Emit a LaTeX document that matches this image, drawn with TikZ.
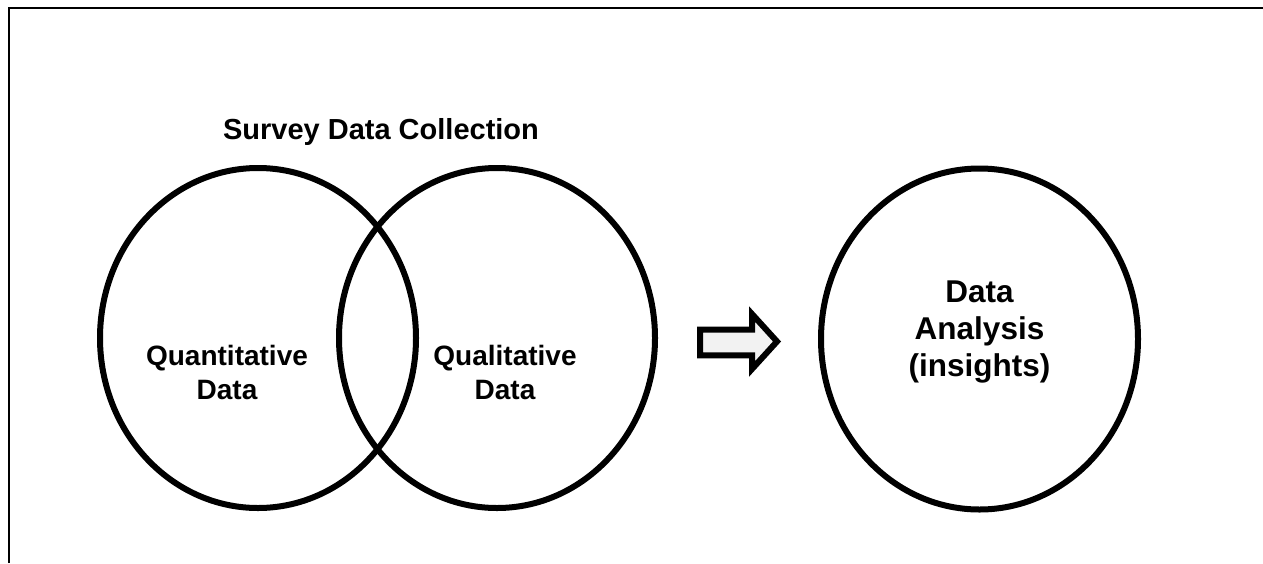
\documentclass[tikz,border=0pt]{standalone}
\usepackage{fontspec}
\setmainfont{Liberation Sans}
\begin{document}
\begin{tikzpicture}[x=1pt,y=-1pt,
  ringline/.style={draw=black,line width=6pt},
  lbl/.style={font=\fontsize{28}{34}\selectfont\bfseries,align=center,inner sep=0pt},
  biglbl/.style={font=\fontsize{31.5}{37}\selectfont\bfseries,align=center,inner sep=0pt},
  framestroke/.style={draw=black,line width=2pt}]
\useasboundingbox (0,0) rectangle (1263,563);
% open frame: only top and left edges
\coordinate (fbl) at (8.5,563);
\coordinate (ftl) at (8.5,8);
\coordinate (ftr) at (1263,8);
\draw[framestroke] (fbl) -- (ftl) -- (ftr);
% circles
\draw[ringline] (258,338) ellipse [x radius=158, y radius=170];
\draw[ringline] (497,338) ellipse [x radius=158, y radius=170];
\draw[ringline] (979.5,339) ellipse [x radius=158.5, y radius=170.5];
% labels
\node[lbl,font=\fontsize{29}{36}\selectfont\bfseries] (title) at (381,132) {Survey Data Collection};
\node[lbl] (quant) at (227,372) {Quantitative\\Data};
\node[lbl] (qual) at (505,372) {Qualitative\\Data};
\node[biglbl] (ana) at (979.5,332) {Data\\Analysis\\(insights)};
% block arrow
\draw[line width=6pt,line join=miter,miter limit=10,fill={rgb,255:red,242;green,242;blue,242}]
  (700,329.7) -- (752,329.7) -- (752,314) -- (777,341.5) -- (752,369) -- (752,355.3) -- (700,355.3) -- cycle;
\end{tikzpicture}
\end{document}
